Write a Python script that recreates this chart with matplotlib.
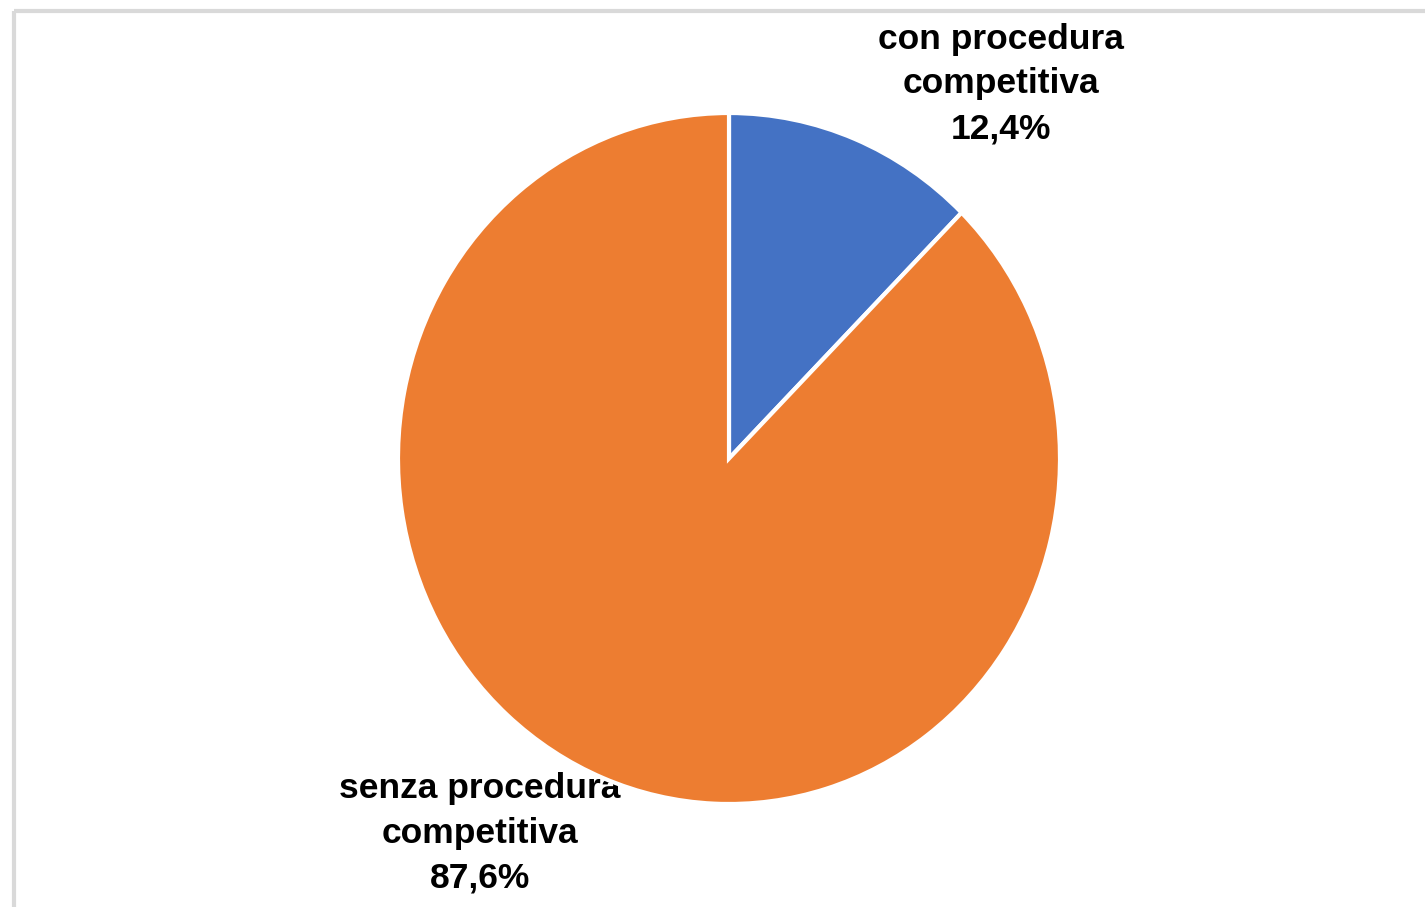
import matplotlib.pyplot as plt

# data
labels = ["con procedura\ncompetitiva", "senza procedura\ncompetitiva"]
values = [12.4, 87.6]
colors = ["#4472C4", "#ED7D31"]

W, H = 1425, 907
fig = plt.figure(figsize=(W / 100, H / 100), dpi=100)
fig.patch.set_facecolor("white")

# light gray frame (only top and left edge visible in the crop)
frame = fig.add_axes([0, 0, 1, 1])
frame.set_xlim(0, W)
frame.set_ylim(H, 0)
frame.axis("off")
frame.plot([14.5, W], [10.5, 10.5], color="#d9d9d9", lw=3, solid_capstyle="butt")
frame.plot([14.5, 14.5], [10.5, H], color="#d9d9d9", lw=3, solid_capstyle="butt")

# pie axes fitted to the (slightly stretched) ellipse
left, right, top, bottom = 398, 1060, 113, 804
ax = fig.add_axes([left / W, 1 - bottom / H, (right - left) / W, (bottom - top) / H])
wedges, _ = ax.pie(values, colors=colors, startangle=90, counterclock=False,
                   wedgeprops=dict(edgecolor="white", linewidth=3))
ax.set_aspect("auto")
ax.set_xlim(-1, 1)
ax.set_ylim(-1, 1)
ax.axis("off")

# data labels
label_pos = [(1001, 84), (480, 833)]
for lab, v, (x, y) in zip(labels, values, label_pos):
    txt = lab + "\n" + f"{v:.1f}".replace(".", ",") + "%"
    frame.text(x, y, txt, ha="center", va="center", fontsize=25.5,
               fontweight="bold", family="Liberation Sans", linespacing=1.46)

fig.savefig("out.png", dpi=100)
